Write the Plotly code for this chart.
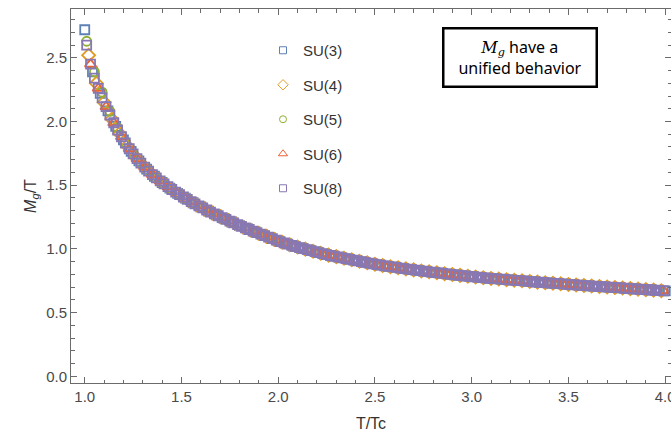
import plotly.graph_objects as go

# Gluon mass over temperature, M_g/T, versus T/Tc for several SU(N) gauge groups.
# SU(3)-SU(6) are sampled every 0.04 in T/Tc (staggered starts), SU(8) every 0.02.
mg_su3 = [2.72, 2.39, 2.22, 2.083, 1.961, 1.855, 1.765, 1.690, 1.626, 1.570,
          1.521, 1.477, 1.436, 1.398, 1.362, 1.329, 1.297, 1.267, 1.239, 1.211,
          1.183, 1.158, 1.134, 1.110, 1.086, 1.062, 1.042, 1.022, 1.006, 0.990,
          0.974, 0.958, 0.945, 0.933, 0.921, 0.909, 0.897, 0.885, 0.874, 0.865,
          0.856, 0.847, 0.839, 0.831, 0.823, 0.816, 0.809, 0.802, 0.795, 0.788,
          0.782, 0.776, 0.771, 0.766, 0.761, 0.756, 0.751, 0.746, 0.742, 0.737,
          0.732, 0.728, 0.723, 0.719, 0.715, 0.710, 0.706, 0.702, 0.698, 0.694,
          0.690, 0.686, 0.682, 0.678, 0.674, 0.670]
mg_su4 = [2.52, 2.30, 2.15, 2.020, 1.906, 1.808, 1.726, 1.657, 1.597, 1.545,
          1.499, 1.456, 1.416, 1.380, 1.345, 1.313, 1.281, 1.253, 1.225, 1.197,
          1.170, 1.146, 1.122, 1.098, 1.074, 1.052, 1.032, 1.014, 0.998, 0.982,
          0.966, 0.951, 0.939, 0.927, 0.915, 0.903, 0.891, 0.879, 0.869, 0.860,
          0.852, 0.843, 0.835, 0.827, 0.820, 0.812, 0.805, 0.798, 0.792, 0.785,
          0.779, 0.774, 0.768, 0.763, 0.758, 0.754, 0.749, 0.744, 0.739, 0.734,
          0.730, 0.726, 0.721, 0.717, 0.712, 0.708, 0.704, 0.700, 0.696, 0.692,
          0.688, 0.684, 0.680, 0.676, 0.672]
mg_su5 = [2.63, 2.39, 2.23, 2.08, 1.95, 1.836, 1.745, 1.673, 1.611, 1.557,
          1.510, 1.466, 1.426, 1.389, 1.353, 1.321, 1.289, 1.260, 1.232, 1.204,
          1.176, 1.152, 1.128, 1.104, 1.080, 1.057, 1.037, 1.018, 1.002, 0.986,
          0.970, 0.954, 0.942, 0.930, 0.918, 0.906, 0.894, 0.882, 0.872, 0.863,
          0.854, 0.845, 0.837, 0.829, 0.821, 0.814, 0.807, 0.800, 0.793, 0.787,
          0.781, 0.775, 0.769, 0.764, 0.760, 0.755, 0.750, 0.745, 0.740, 0.736,
          0.731, 0.727, 0.722, 0.718, 0.714, 0.709, 0.705, 0.701, 0.697, 0.693,
          0.689, 0.685, 0.681, 0.677, 0.673]
mg_su6 = [2.45, 2.26, 2.116, 1.990, 1.880, 1.786, 1.708, 1.641, 1.583, 1.533,
          1.488, 1.446, 1.407, 1.371, 1.337, 1.305, 1.274, 1.246, 1.218, 1.190,
          1.164, 1.140, 1.116, 1.092, 1.068, 1.047, 1.027, 1.010, 0.994, 0.978,
          0.962, 0.948, 0.936, 0.924, 0.912, 0.900, 0.888, 0.877, 0.867, 0.858,
          0.849, 0.841, 0.833, 0.825, 0.818, 0.811, 0.803, 0.796, 0.790, 0.784,
          0.778, 0.772, 0.767, 0.762, 0.757, 0.752, 0.748, 0.743, 0.738, 0.733,
          0.729, 0.725, 0.720, 0.716, 0.711, 0.707, 0.703, 0.699, 0.695, 0.691,
          0.687, 0.683, 0.679, 0.675, 0.671]
mg_su8 = [2.60, 2.45, 2.34, 2.26, 2.185, 2.116, 2.051, 1.990, 1.933, 1.880,
          1.831, 1.786, 1.745, 1.708, 1.673, 1.641, 1.611, 1.583, 1.557, 1.533,
          1.510, 1.488, 1.466, 1.446, 1.426, 1.407, 1.389, 1.371, 1.353, 1.337,
          1.321, 1.305, 1.289, 1.274, 1.260, 1.246, 1.232, 1.218, 1.204, 1.190,
          1.176, 1.164, 1.152, 1.140, 1.128, 1.116, 1.104, 1.092, 1.080, 1.068,
          1.057, 1.047, 1.037, 1.027, 1.018, 1.010, 1.002, 0.994, 0.986, 0.978,
          0.970, 0.962, 0.954, 0.948, 0.942, 0.936, 0.930, 0.924, 0.918, 0.912,
          0.906, 0.900, 0.894, 0.888, 0.882, 0.877, 0.872, 0.867, 0.863, 0.858,
          0.854, 0.849, 0.845, 0.841, 0.837, 0.833, 0.829, 0.825, 0.821, 0.818,
          0.814, 0.811, 0.807, 0.803, 0.800, 0.796, 0.793, 0.790, 0.787, 0.784,
          0.781, 0.778, 0.775, 0.772, 0.769, 0.767, 0.764, 0.762, 0.760, 0.757,
          0.755, 0.752, 0.750, 0.748, 0.745, 0.743, 0.740, 0.738, 0.736, 0.733,
          0.731, 0.729, 0.727, 0.725, 0.722, 0.720, 0.718, 0.716, 0.714, 0.711,
          0.709, 0.707, 0.705, 0.703, 0.701, 0.699, 0.697, 0.695, 0.693, 0.691,
          0.689, 0.687, 0.685, 0.683, 0.681, 0.679, 0.677, 0.675, 0.673, 0.671]

# (first T/Tc, step) of each sampling grid
grids = [(1.00, 0.04), (1.02, 0.04), (1.01, 0.04), (1.03, 0.04), (1.01, 0.02)]

groups = ["SU(3)", "SU(4)", "SU(5)", "SU(6)", "SU(8)"]
series = [mg_su3, mg_su4, mg_su5, mg_su6, mg_su8]
colors = ["#5E81B5", "#E19C24", "#8FB032", "#EB6235", "#8778B3"]
symbols = ["square-open", "diamond-open", "circle-open", "triangle-up-open", "square-open"]
sizes = [9, 10, 9, 10, 9]
legend_sizes = [7, 8, 7, 8, 7]

fig = go.Figure()
for name, y, (t0, dt), c, s, sz in zip(groups, series, grids, colors, symbols, sizes):
    x = [round(t0 + dt * i, 2) for i in range(len(y))]
    fig.add_trace(go.Scatter(
        x=x, y=y, mode="markers", name=name, showlegend=False,
        marker=dict(symbol=s, size=sz, color=c, line=dict(width=1.8, color=c)),
    ))

# legend entries with the smaller key symbols
for name, c, s, sz in zip(groups, colors, symbols, legend_sizes):
    fig.add_trace(go.Scatter(
        x=[None], y=[None], mode="markers", name=name, legendgroup=name,
        marker=dict(symbol=s, size=sz, color=c, line=dict(width=1, color=c)),
    ))

label_font = dict(family="Liberation Sans, Arial", size=16, color="#333")
axis_common = dict(
    showgrid=False, zeroline=False, showline=True, linecolor="#6b6b6b", linewidth=1,
    mirror="ticks", ticks="inside", ticklen=6, tickcolor="#6b6b6b", tickwidth=1,
    tickfont=dict(family="Liberation Sans, Arial", size=15, color="#4a4a4a"),
    minor=dict(ticks="inside", ticklen=3.5, dtick=0.1, tickcolor="#6b6b6b", tickwidth=1),
    tick0=0, dtick=0.5, tickformat=".1f", ticklabeloverflow="allow", automargin=False,
)

fig.update_xaxes(range=[0.929, 4.03], title=dict(text="T/Tc", standoff=13, font=label_font),
                 **axis_common)
fig.update_yaxes(range=[-0.053, 2.883],
                 title=dict(text="<i>M</i><sub><i>g</i></sub>/T", standoff=5, font=label_font),
                 **axis_common)

fig.add_annotation(
    xref="paper", yref="paper", x=(520 - 71) / 600, y=1 - (57 - 9) / 374,
    xanchor="center", yanchor="middle", showarrow=False,
    text=("<span style='font-family:DejaVu Serif'><i>M</i><sub><i>g</i></sub></span> have a"
          "<br>unified behavior"),
    font=dict(family="Noto Sans, Open Sans", size=16, color="#000"),
    bordercolor="#000", borderwidth=2.5, borderpad=3, width=145, height=50,
    bgcolor="white", align="center",
)

fig.update_layout(
    width=671, height=434,
    margin=dict(l=71, r=0, t=9, b=51, autoexpand=False),
    paper_bgcolor="white", plot_bgcolor="white",
    showlegend=True,
    legend=dict(
        x=(263 - 71) / 600, y=1 - (34 - 9) / 374, xanchor="left", yanchor="top",
        bgcolor="rgba(0,0,0,0)", font=dict(family="Liberation Sans, Arial", size=15, color="#333"),
        tracegroupgap=12, itemwidth=30,
    ),
)

fig.write_html("out.html")
